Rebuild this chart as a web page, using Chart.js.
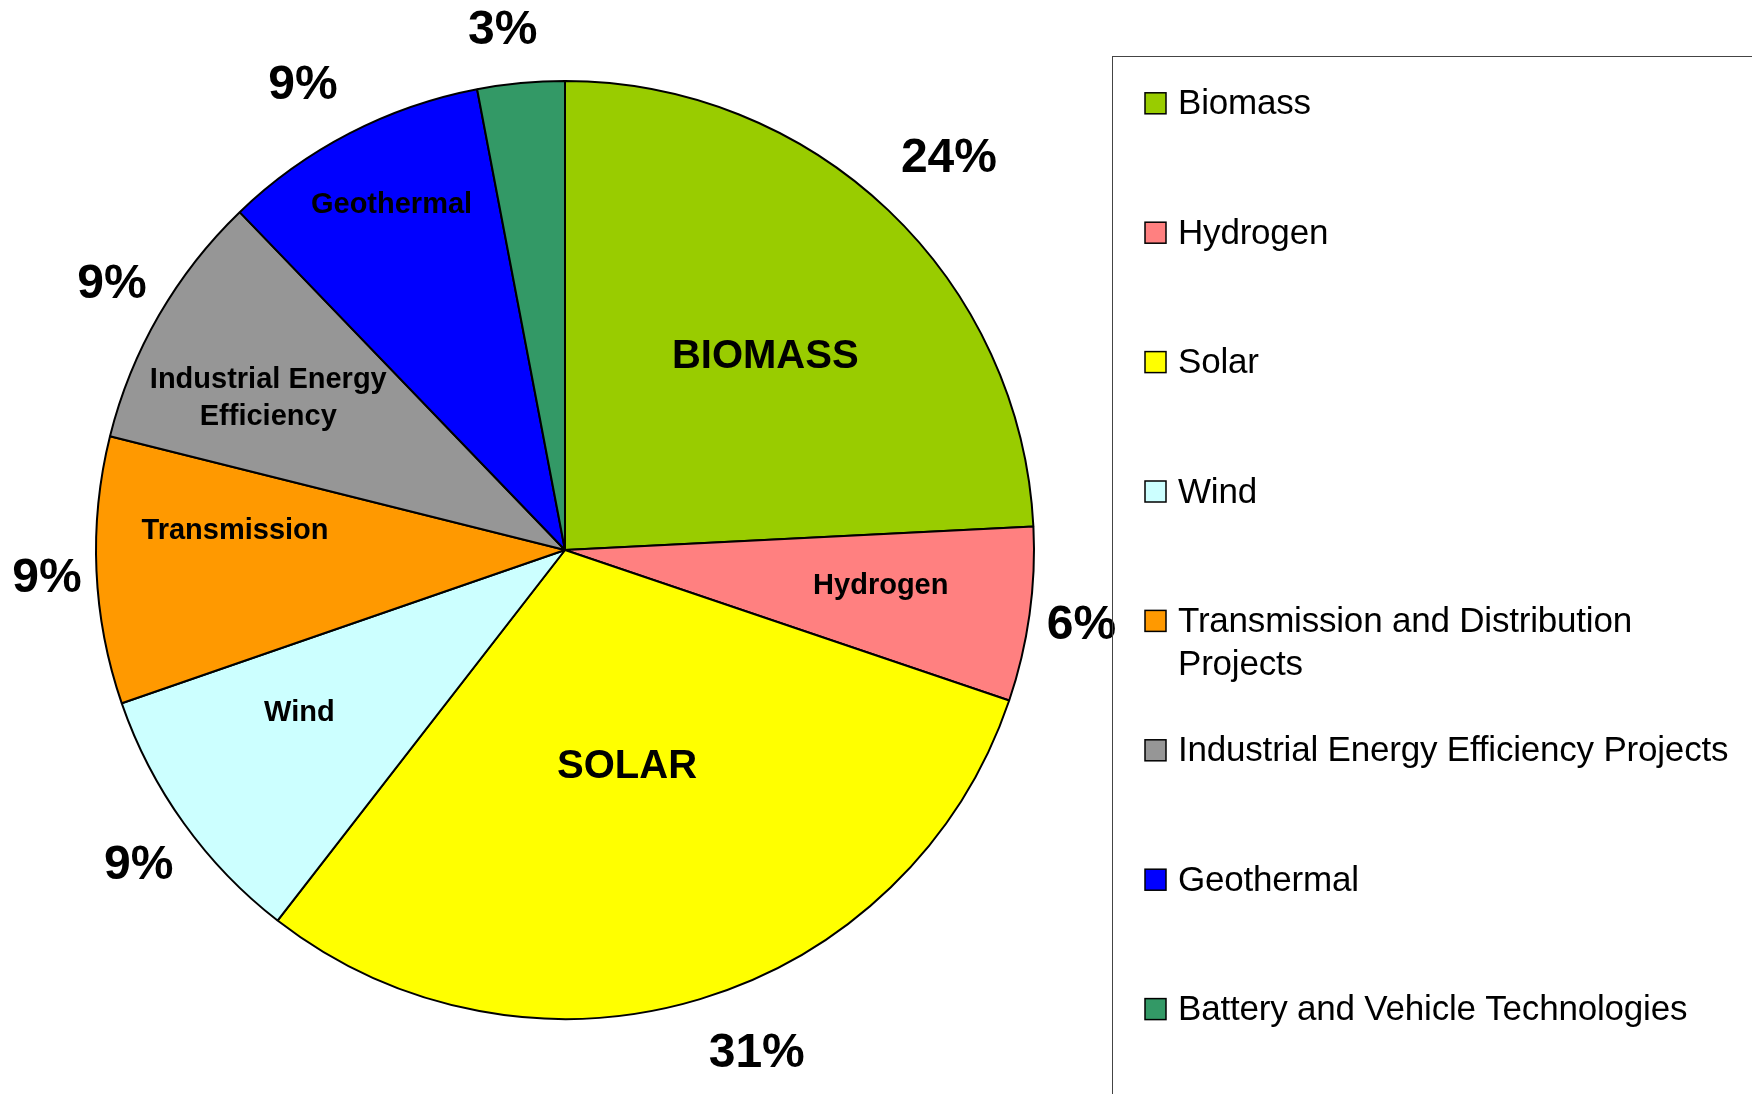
<!DOCTYPE html>
<html>
<head>
<meta charset="utf-8">
<title>Funding by technology</title>
<script src="https://cdn.jsdelivr.net/npm/chart.js@4.4.1/dist/chart.umd.min.js"></script>
<style>
  html, body { margin: 0; padding: 0; background: #fff; }
  #wrap { position: relative; width: 1752px; height: 1094px; overflow: hidden; }
  canvas { display: block; }
</style>
</head>
<body>
<div id="wrap">
  <canvas id="pie" width="1752" height="1094"></canvas>
</div>
<script>
// data (share of total, %)
const categories = ["Biomass", "Hydrogen", "Solar", "Wind",
  "Transmission and Distribution Projects", "Industrial Energy Efficiency Projects",
  "Geothermal", "Battery and Vehicle Technologies"];
const shares = [24.2, 6.0, 30.3, 9.2, 9.2, 8.9, 9.2, 3.0];
const percentText = ["24%", "6%", "31%", "9%", "9%", "9%", "9%", "3%"];
const sliceText = ["BIOMASS", "Hydrogen", "SOLAR", "Wind", "Transmission",
  ["Industrial Energy", "Efficiency"], "Geothermal", ""];
const legendText = ["Biomass", "Hydrogen", "Solar", "Wind",
  ["Transmission and Distribution", "Projects"], "Industrial Energy Efficiency Projects",
  "Geothermal", "Battery and Vehicle Technologies"];
const colors = ["#99CC00", "#FF8080", "#FFFF00", "#CCFFFF",
  "#FF9900", "#969696", "#0000FF", "#339966"];

const FONT = '"Liberation Sans", Arial, Helvetica, sans-serif';

// label placement: radius as fraction of outer radius, angle nudge (deg) from slice middle
const innerPos = [
  { f: 0.598, da: 2.0,  size: 40 },
  { f: 0.677, da: -1.9, size: 29 },
  { f: 0.476, da: 0.6,  size: 40 },
  { f: 0.661, da: 4.6,  size: 29 },
  { f: 0.705, da: 6.3,  size: 29 },
  { f: 0.713, da: -2.6, size: 29 },
  { f: 0.830, da: 0.9,  size: 29 },
  null
];
const outerPos = [
  { f: 1.173, da: 0.7 },
  { f: 1.112, da: 0.1 },
  { f: 1.144, da: -4.2 },
  { f: 1.127, da: -0.6 },
  { f: 1.106, da: -0.3 },
  { f: 1.123, da: 0.6 },
  { f: 1.143, da: -1.9 },
  { f: 1.121, da: -1.4 }
];

const sliceLabels = {
  id: 'sliceLabels',
  afterDatasetsDraw(chart) {
    const ctx = chart.ctx;
    const arcs = chart.getDatasetMeta(0).data;
    ctx.save();
    ctx.fillStyle = '#000';
    ctx.textAlign = 'center';
    ctx.textBaseline = 'middle';
    arcs.forEach((arc, i) => {
      const p = arc.getProps(['x', 'y', 'startAngle', 'endAngle', 'outerRadius'], true);
      const mid = (p.startAngle + p.endAngle) / 2;
      const ip = innerPos[i];
      if (ip && sliceText[i]) {
        const a = mid + ip.da * Math.PI / 180;
        const cx = p.x + Math.cos(a) * p.outerRadius * ip.f;
        const cy = p.y + Math.sin(a) * p.outerRadius * ip.f + 3;
        ctx.font = 'bold ' + ip.size + 'px ' + FONT;
        const lines = [].concat(sliceText[i]);
        const lh = ip.size * 1.27;
        lines.forEach((t, k) => {
          ctx.fillText(t, cx, cy + (k - (lines.length - 1) / 2) * lh);
        });
      }
      const op = outerPos[i];
      const a2 = mid + op.da * Math.PI / 180;
      ctx.font = 'bold 48px ' + FONT;
      ctx.fillText(percentText[i],
        p.x + Math.cos(a2) * p.outerRadius * op.f,
        p.y + Math.sin(a2) * p.outerRadius * op.f + 3);
    });
    ctx.restore();
  }
};

const boxLegend = {
  id: 'boxLegend',
  afterDraw(chart) {
    const ctx = chart.ctx;
    const bg = chart.data.datasets[0].backgroundColor;
    ctx.save();
    ctx.strokeStyle = '#444';
    ctx.lineWidth = 1;
    ctx.strokeRect(1112.5, 56.5, 700, 1100);
    ctx.font = '35px ' + FONT;
    ctx.letterSpacing = '-0.2px';
    ctx.textAlign = 'left';
    ctx.textBaseline = 'middle';
    legendText.forEach((lbl, i) => {
      const y = 103.3 + i * 129.4;
      ctx.fillStyle = bg[i];
      ctx.fillRect(1145, y - 10.5, 21, 21);
      ctx.strokeStyle = '#000';
      ctx.lineWidth = 1.5;
      ctx.strokeRect(1145, y - 10.5, 21, 21);
      ctx.fillStyle = '#000';
      [].concat(lbl).forEach((t, k) => ctx.fillText(t, 1178, y + 1.5 + k * 42.5));
    });
    ctx.restore();
  }
};

new Chart(document.getElementById('pie'), {
  type: 'pie',
  data: {
    labels: categories,
    datasets: [{
      data: shares,
      backgroundColor: colors,
      borderColor: '#000',
      borderWidth: 2,
      hoverOffset: 0,
      offset: 0
    }]
  },
  options: {
    responsive: false,
    devicePixelRatio: 1,
    animation: false,
    layout: { padding: { left: 95, top: 80, right: 717, bottom: 74 } },
    plugins: {
      legend: { display: false },
      tooltip: { enabled: false }
    }
  },
  plugins: [sliceLabels, boxLegend]
});
</script>
</body>
</html>
